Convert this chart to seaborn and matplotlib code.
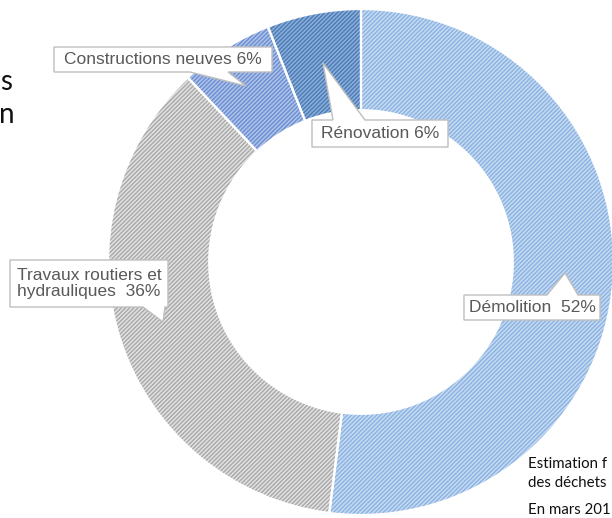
import matplotlib
matplotlib.use("Agg")
import matplotlib.pyplot as plt
from matplotlib.patches import Polygon
import seaborn as sns

# Répartition des déchets du BTP
categories = ["Démolition", "Travaux routiers et\nhydrauliques", "Constructions neuves", "Rénovation"]
values = [52, 36, 6, 6]
label_texts = ["Démolition  52%", "Travaux routiers et\nhydrauliques  36%",
               "Constructions neuves 6%", "Rénovation 6%"]
face_colors = ["#C8DCF2", "#E4E4E4", "#B2C6EA", "#8FB1D9"]
hatch_colors = ["#8DB4E2", "#ABABAB", "#6E90D2", "#4D7DB9"]

sns.set_theme(style="white")
plt.rcParams["hatch.linewidth"] = 1.1

W, H = 612, 518
CX, CY, S = 361, 262, 253  # centre and radius of the ring in pixels


def px(x, y):
    # pixel position (from top-left) -> data coordinates
    return ((x - CX) / S, (CY - y) / S)


fig = plt.figure(figsize=(W / 100, H / 100), dpi=100)
ax = fig.add_axes([0, 0, 1, 1])

wedges, _ = ax.pie(values, startangle=90, counterclock=False, radius=1,
                   colors=face_colors, wedgeprops=dict(width=0.4, linewidth=0))
for w, hc in zip(wedges, hatch_colors):
    w.set_hatch("////////")
    w.set_edgecolor(hc)
    w.set_linewidth(0)

# white separators between the slices
ax.pie(values, startangle=90, counterclock=False, radius=1,
       colors=["none"] * len(values),
       wedgeprops=dict(width=0.4, linewidth=1.6, edgecolor="white"))

# callout boxes: box (x0, y0, x1, y1), pointer base and tip, in pixels
callouts = [
    (label_texts[0], (464, 295, 600, 320), "top", (547, 578), (565, 273)),
    (label_texts[1], (10, 260, 168, 307), "bottom", (143, 165), (163, 322)),
    (label_texts[2], (54, 47, 272, 72), "bottom", (190, 228), (246, 86)),
    (label_texts[3], (312, 120, 448, 147), "top", (333, 365), (323, 63)),
]
for text, (x0, y0, x1, y1), side, (b1, b2), tip in callouts:
    if side == "top":
        pts = [(x0, y0), (b1, y0), tip, (b2, y0), (x1, y0), (x1, y1), (x0, y1)]
    else:
        pts = [(x0, y0), (x1, y0), (x1, y1), (b2, y1), tip, (b1, y1), (x0, y1)]
    ax.add_patch(Polygon([px(*p) for p in pts], closed=True, fc="white",
                         ec="#BFBFBF", lw=1.0, zorder=3))
    tx, ty = px((x0 + x1) / 2, (y0 + y1) / 2)
    ax.text(tx, ty, text, ha="center", va="center", fontsize=12.5,
            family="Liberation Sans", color="#595959", zorder=4,
            multialignment="left", linespacing=1.15)

# cut-off slide text around the chart
ax.text(*px(0, 90), "s", fontsize=20, family="Lato", color="#111111", va="baseline")
ax.text(*px(-1, 123), "n", fontsize=20, family="Lato", color="#111111", va="baseline")
ax.text(*px(528, 468), "Estimation f", fontsize=10.8, family="Lato", color="#111111", va="baseline")
ax.text(*px(528, 487), "des déchets", fontsize=10.8, family="Lato", color="#111111", va="baseline")
ax.text(*px(528, 514), "En mars 201", fontsize=10.8, family="Lato", color="#111111", va="baseline")

ax.set_xlim(-CX / S, (W - CX) / S)
ax.set_ylim((CY - H) / S, CY / S)
ax.set_aspect("auto")
ax.axis("off")

fig.savefig("out.png", dpi=100)
